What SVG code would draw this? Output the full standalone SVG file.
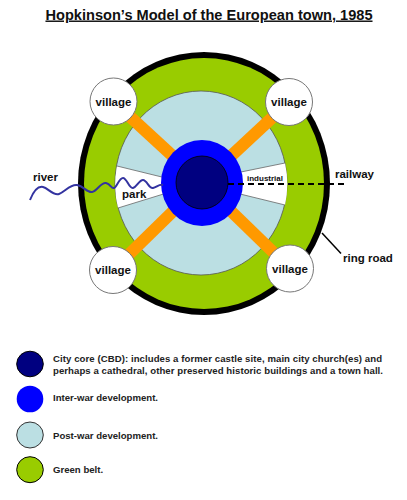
<svg xmlns="http://www.w3.org/2000/svg" width="407" height="500" viewBox="0 0 407 500">
<style>
text{font-family:"Liberation Sans",Arial,sans-serif;font-weight:bold;fill:#111}
.lbl{font-size:11.5px}
.leg{font-size:9.6px;fill:#222}
.village circle{fill:#fff;stroke:#777;stroke-width:1}
.village text{text-anchor:middle}
.road{stroke:#ff9900;stroke-width:12;stroke-linecap:butt}
.edge{stroke:#666;stroke-width:0.8}
</style>
<rect width="407" height="500" fill="#fff"/>
<text id="title" x="209" y="19.5" text-anchor="middle" font-size="14.6" text-decoration="underline">Hopkinson’s Model of the European town, 1985</text>

<g id="ring-road"><ellipse cx="204" cy="183.5" rx="126" ry="131.5" fill="#000"/></g>
<g id="green-belt"><ellipse cx="204" cy="183.5" rx="120" ry="125.5" fill="#99cc00"/></g>
<g id="post-war"><ellipse cx="201" cy="183" rx="86" ry="92" fill="#bbdfe3" stroke="#555" stroke-width="0.8"/></g>

<g id="park">
<path d="M170,179 L117,166 A86,92 0 0 0 118,208 L170,192 Z" fill="#fff"/>
<line class="edge" x1="117" y1="166" x2="170" y2="179"/>
<line class="edge" x1="118" y1="208" x2="170" y2="192"/>
</g>
<g id="industrial">
<path d="M236,173 L285,163 A86,92 0 0 1 285,205 L236,193 Z" fill="#fff"/>
<line class="edge" x1="236" y1="173" x2="285" y2="163"/>
<line class="edge" x1="236" y1="193" x2="285" y2="205"/>
</g>

<g id="connectors">
<line class="road" x1="113.5" y1="101.5" x2="202" y2="183"/>
<line class="road" x1="289" y1="102" x2="202" y2="183"/>
<line class="road" x1="113" y1="270" x2="202" y2="183"/>
<line class="road" x1="290" y1="268.5" x2="202" y2="183"/>
<line x1="322" y1="233" x2="341" y2="253.5" stroke="#000" stroke-width="1.5"/>
</g>

<g id="inter-war"><ellipse cx="202" cy="183" rx="41" ry="43" fill="#0000ff"/></g>
<g id="cbd"><ellipse cx="202" cy="182.5" rx="26" ry="26.5" fill="#000080" stroke="#000" stroke-width="0.8"/></g>

<text id="industrial-label" x="247" y="180.5" font-size="8">industrial</text>
<g id="railway">
<line x1="228" y1="184" x2="348" y2="184" stroke="#000" stroke-width="2" stroke-dasharray="6 4"/>
<text class="lbl" x="335" y="178">railway</text>
</g>
<g id="river">
<path d="M30,200 C34,190 38,186 43,187 S53,196 59,194 S70,184 77,185 S87,193 92,192 S101,182 106,183 S111,189 114,188 S119,178 123,178 S129,189 133,188 S139,180 143,180 S149,189 153,188 S159,184 163,185" fill="none" stroke="#3333a0" stroke-width="2"/>
<text class="lbl" x="33" y="181">river</text>
</g>
<text id="park-label" class="lbl" x="122" y="198">park</text>
<text id="ring-road-label" class="lbl" x="343" y="262">ring road</text>

<g id="village-nw" class="village"><circle cx="113.5" cy="101.5" r="23.5"/><text class="lbl" x="113.5" y="105.5">village</text></g>
<g id="village-ne" class="village"><circle cx="289" cy="102" r="23.5"/><text class="lbl" x="289" y="106">village</text></g>
<g id="village-sw" class="village"><circle cx="113" cy="270" r="23.5"/><text class="lbl" x="113" y="274">village</text></g>
<g id="village-se" class="village"><circle cx="290" cy="268.5" r="23.5"/><text class="lbl" x="290" y="272.5">village</text></g>

<g id="legend">
<g id="leg-cbd"><ellipse cx="30" cy="364" rx="13.3" ry="12.8" fill="#000080" stroke="#000" stroke-width="1"/>
<text class="leg" x="53" y="361.5" textLength="329" lengthAdjust="spacing">City core (CBD): includes a former castle site, main city church(es) and</text>
<text class="leg" x="53" y="374" textLength="330" lengthAdjust="spacing">perhaps a cathedral, other preserved historic buildings and a town hall.</text></g>
<g id="leg-inter"><ellipse cx="30" cy="399" rx="13.3" ry="13.3" fill="#0000ff"/>
<text class="leg" x="53" y="401">Inter-war development.</text></g>
<g id="leg-post"><ellipse cx="30" cy="435" rx="13.3" ry="13" fill="#bbdfe3" stroke="#333" stroke-width="1"/>
<text class="leg" x="53" y="438.5">Post-war development.</text></g>
<g id="leg-green"><ellipse cx="30" cy="469.7" rx="13.3" ry="13" fill="#99cc00" stroke="#000" stroke-width="1"/>
<text class="leg" x="53" y="473">Green belt.</text></g>
</g>
</svg>
